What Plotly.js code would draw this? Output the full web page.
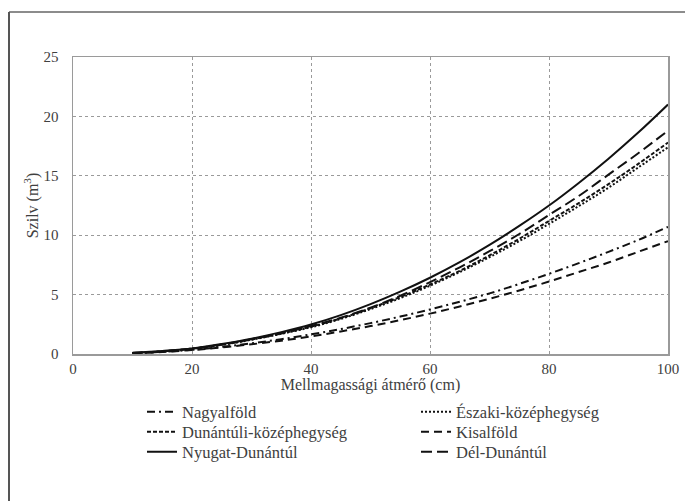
<!DOCTYPE html>
<html>
<head>
<meta charset="utf-8">
<script src="https://cdn.plot.ly/plotly-3.0.1.min.js"></script>
<style>html,body{margin:0;padding:0;background:#fff;}#chart{width:685px;height:501px;}</style>
</head>
<body>
<div id="chart"></div>
<script>
const diameter = [10,15,20,25,30,35,40,45,50,55,60,65,70,75,80,85,90,95,100];
const nagyalfold = [0.06,0.18,0.35,0.6,0.9,1.25,1.65,2.1,2.6,3.15,3.75,4.4,5.1,5.9,6.75,7.65,8.6,9.6,10.7];
const eszakiKozephegyseg = [0.08,0.22,0.44,0.77,1.2,1.7,2.25,2.95,3.78,4.7,5.75,6.9,8.15,9.5,10.95,12.45,14.0,15.7,17.4];
const dunantuliKozephegyseg = [0.08,0.22,0.45,0.78,1.22,1.72,2.3,3.0,3.85,4.8,5.85,7.0,8.3,9.7,11.2,12.7,14.3,16.0,17.8];
const kisalfold = [0.06,0.17,0.33,0.55,0.82,1.12,1.48,1.9,2.35,2.85,3.4,4.0,4.65,5.35,6.1,6.9,7.7,8.6,9.5];
const nyugatDunantul = [0.1,0.26,0.47,0.84,1.29,1.84,2.48,3.27,4.2,5.25,6.42,7.73,9.18,10.78,12.5,14.4,16.44,18.64,21.0];
const delDunantul = [0.08,0.22,0.45,0.8,1.25,1.75,2.35,3.05,3.9,4.9,6.05,7.3,8.65,10.1,11.7,13.3,15.1,16.9,18.8];

const seriesNames = ['Nagyalföld','Északi-középhegység','Dunántúli-középhegység','Kisalföld','Nyugat-Dunántúl','Dél-Dunántúl'];
const seriesValues = [nagyalfold, eszakiKozephegyseg, dunantuliKozephegyseg, kisalfold, nyugatDunantul, delDunantul];
const dashes = ['8px,4px,2px,4px','2px,2px','4px,2px','8px,5px','solid','11px,5px'];
const legendIds = ['legend','legend2','legend3','legend4','legend5','legend6'];

const traces = seriesNames.map((n,i)=>({
  x: diameter, y: seriesValues[i], name: n, type:'scatter', mode:'lines',
  legend: legendIds[i],
  line:{color:'#111', width:2, dash:dashes[i], shape:'spline'}
}));

const px = v => (v-73)/595;
const py = v => (354-v)/297;
const FAM = 'Liberation Serif';
const tickFont = {family:FAM, size:15, color:'#404040'};
const titleFont = {family:FAM, size:16, color:'#404040'};
const legFont = {family:FAM, size:16.5, color:'#404040'};

const layout = {
  width:685, height:501,
  margin:{l:73, r:17, t:57, b:147, autoexpand:false},
  paper_bgcolor:'#fff', plot_bgcolor:'#fff',
  font: {family:FAM, size:15, color:'#404040'},
  showlegend:true,
  xaxis:{range:[0,100], dtick:20, tick0:0, showgrid:true, gridcolor:'#9a9a9a', griddash:'dot', gridwidth:1,
    showline:true, mirror:true, linecolor:'#9a9a9a', linewidth:1.5, zeroline:false, ticks:'',
    tickfont:tickFont, title:{text:'Mellmagassági átmérő (cm)', font:titleFont, standoff:3}},
  yaxis:{range:[0,25], dtick:5, tick0:0, showgrid:true, gridcolor:'#9a9a9a', griddash:'dot', gridwidth:1,
    showline:true, mirror:true, linecolor:'#9a9a9a', linewidth:1.5, zeroline:false, ticks:'',
    ticklabelstandoff:10,
    tickfont:tickFont, title:{text:'Szilv (m<sup>3</sup>)', font:titleFont, standoff:1}},
  shapes:[
    {type:'line', xref:'paper', yref:'paper', x0:px(9), x1:px(690), y0:py(12), y1:py(12), line:{color:'#666', width:1.5}},
    {type:'line', xref:'paper', yref:'paper', x0:px(9), x1:px(9), y0:py(12), y1:py(505), line:{color:'#555', width:2}}
  ]
};
const legX = [142, 416];
const legY = [412, 432, 452];
legendIds.forEach((id,i)=>{
  layout[id] = {orientation:'v', x:px(legX[i%2]), xanchor:'left', y:py(legY[Math.floor(i/2)]), yanchor:'middle',
    font:legFont, bgcolor:'rgba(0,0,0,0)', itemwidth:30, borderwidth:0};
});

Plotly.newPlot('chart', traces, layout, {displayModeBar:false, staticPlot:true});
</script>
</body>
</html>
